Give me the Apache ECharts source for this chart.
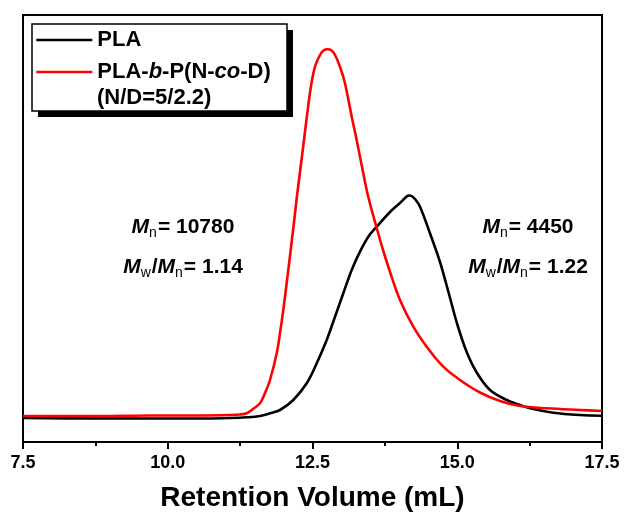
<!DOCTYPE html>
<html><head><meta charset="utf-8">
<script src="https://cdn.jsdelivr.net/npm/echarts@6/dist/echarts.min.js"></script>
<style>html,body{margin:0;padding:0;background:#fff}#c{width:625px;height:515px}</style>
</head><body><div id="c"></div>
<script>
// Retention volume (mL) and detector signal (a.u.)
const plaVolume = [7.500, 8.830, 10.557, 11.075, 11.364, 11.593, 11.766, 11.939, 12.168, 12.400, 12.573, 12.745, 12.889, 13.032, 13.177, 13.320, 13.464, 13.609, 13.839, 14.011, 14.127, 14.167, 14.213, 14.270, 14.357, 14.529, 14.702, 14.857, 15.004, 15.163, 15.336, 15.566, 15.854, 16.084, 16.256, 16.659, 17.120, 17.500];
const plaSignal = [24, 23.5, 23.5, 24, 24.7, 26, 28.7, 32, 42, 58.7, 78.7, 102, 125.3, 148.7, 172, 190.3, 205.3, 215.3, 230, 239, 245.5, 246.5, 246, 243, 235.3, 208.7, 180, 148, 117, 90, 69.5, 52, 42, 37, 33.7, 29.3, 27, 26.3];

const copVolume = [7.500, 8.139, 8.830, 9.693, 10.557, 11.075, 11.248, 11.364, 11.472, 11.593, 11.680, 11.766, 11.882, 11.939, 11.996, 12.054, 12.103, 12.146, 12.189, 12.232, 12.284, 12.336, 12.400, 12.469, 12.543, 12.630, 12.690, 12.763, 12.828, 12.889, 12.975, 13.061, 13.177, 13.263, 13.377, 13.464, 13.609, 13.718, 13.839, 14.011, 14.241, 14.472, 14.759, 15.047, 15.392, 15.738, 16.084, 16.545, 17.120, 17.500];
const copSignal = [26, 26, 26, 26.5, 26.5, 27, 27.5, 28.7, 33, 38.7, 49, 62, 88.7, 109, 132, 159, 182, 203, 224, 246, 270, 294, 324, 354, 375.3, 387, 391.5, 392.7, 391.5, 387, 375.3, 358.7, 325.3, 302, 268.7, 245, 214, 192, 170, 142, 115.3, 95.3, 75.3, 62, 49.5, 41, 36, 33.7, 32, 31];

const seriesNames = ['PLA', 'PLA-b-P(N-co-D)'];
const legendExtraLine = '(N/D=5/2.2)';
const xAxisTitle = 'Retention Volume (mL)';
const leftMn = '10780', leftPdi = '1.14';
const rightMn = '4450', rightPdi = '1.22';

const FONT = "'Liberation Sans', Arial, Helvetica, sans-serif";
const pair = (xs, ys) => xs.map((x, i) => [x, ys[i]]);

const annRich = {
  m: { fontFamily: FONT, fontSize: 21, fontWeight: 'bold', fontStyle: 'italic', color: '#000', lineHeight: 24 },
  s: { fontFamily: FONT, fontSize: 14, fontWeight: 'normal', color: '#000', lineHeight: 14, padding: [12, 1, 0, 0] },
  t: { fontFamily: FONT, fontSize: 21, fontWeight: 'bold', color: '#000', lineHeight: 24 }
};
function annText(x, y, txt) {
  return { type: 'text', x: x, y: y, z: 20, style: { text: txt, align: 'center', verticalAlign: 'middle', rich: annRich } };
}

const chart = echarts.init(document.getElementById('c'));
chart.setOption({
  animation: false,
  backgroundColor: '#fff',
  grid: { left: 23, right: 23, top: 15, bottom: 73, containLabel: false, outerBoundsMode: 'none',
          show: true, borderColor: '#000', borderWidth: 2, backgroundColor: 'transparent' },
  xAxis: {
    type: 'value', min: 7.5, max: 17.5, interval: 2.5,
    name: xAxisTitle, nameLocation: 'middle', nameGap: 42,
    nameTextStyle: { fontFamily: FONT, fontSize: 28, fontWeight: 'bold', color: '#000' },
    axisLine: { show: true, onZero: false, lineStyle: { color: '#000', width: 2 } },
    axisTick: { show: true, inside: false, length: 7, lineStyle: { color: '#000', width: 2 } },
    minorTick: { show: true, splitNumber: 2, length: 4, lineStyle: { color: '#000', width: 2 } },
    splitLine: { show: false },
    axisLabel: { margin: 12, fontFamily: FONT, fontSize: 18, fontWeight: 'bold', color: '#000', formatter: v => v.toFixed(1) }
  },
  yAxis: { type: 'value', min: 0, max: 427, show: false, splitLine: { show: false } },
  legend: {
    left: 32, top: 24, orient: 'vertical', z: 30,
    padding: [5, 10, 32, 3], itemGap: 10, itemWidth: 56, itemHeight: 20,
    itemStyle: { opacity: 0, borderWidth: 0 },
    lineStyle: { width: 2.6 },
    data: seriesNames,
    textStyle: {
      fontFamily: FONT, fontSize: 22, fontWeight: 'bold', color: '#000',
      rich: {
        a: { fontFamily: FONT, fontSize: 22, fontWeight: 'bold', color: '#000' },
        i: { fontFamily: FONT, fontSize: 22, fontWeight: 'bold', fontStyle: 'italic', color: '#000' }
      }
    },
    formatter: function (name) {
      if (name === seriesNames[1]) return '{a|PLA-}{i|b}{a|-P(N-}{i|co}{a|-D)}';
      return '{a|' + name + '}';
    }
  },
  graphic: [
    { type: 'rect', z: 25, shape: { x: 38, y: 30, width: 255, height: 87 }, style: { fill: '#000' } },
    { type: 'rect', z: 26, shape: { x: 32, y: 24, width: 255, height: 87 }, style: { fill: '#fff', stroke: '#000', lineWidth: 1.5 } },
    { type: 'text', z: 31, x: 97, y: 98, style: { text: legendExtraLine, fontFamily: FONT, fontSize: 22, fontWeight: 'bold', fill: '#000', verticalAlign: 'middle' } },
    annText(183, 227, '{m|M}{s|n}{t|= ' + leftMn + '}'),
    annText(183, 267, '{m|M}{s|w}{t|/}{m|M}{s|n}{t|= ' + leftPdi + '}'),
    annText(528, 227, '{m|M}{s|n}{t|= ' + rightMn + '}'),
    annText(528, 267, '{m|M}{s|w}{t|/}{m|M}{s|n}{t|= ' + rightPdi + '}')
  ],
  series: [
    { name: seriesNames[0], type: 'line', data: pair(plaVolume, plaSignal), showSymbol: false, symbol: 'none', smooth: 0.35, z: 3,
      lineStyle: { color: '#000', width: 2.6 }, itemStyle: { color: '#000' } },
    { name: seriesNames[1], type: 'line', data: pair(copVolume, copSignal), showSymbol: false, symbol: 'none', smooth: 0.35, z: 4,
      lineStyle: { color: '#ff0000', width: 2.6 }, itemStyle: { color: '#ff0000' } }
  ]
});
</script></body></html>
